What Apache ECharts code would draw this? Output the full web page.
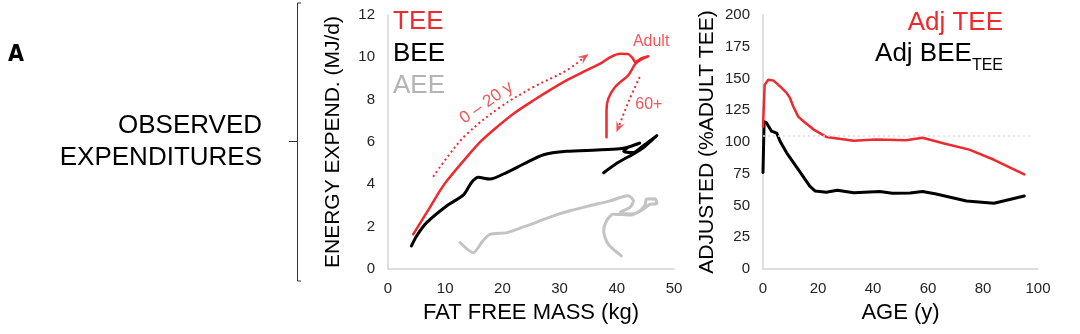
<!DOCTYPE html>
<html>
<head>
<meta charset="utf-8">
<script src="https://cdn.jsdelivr.net/npm/echarts@6/dist/echarts.min.js"></script>
<style>
html,body{margin:0;padding:0;background:#fff;}
#chart{width:1080px;height:334px;}
</style>
</head>
<body>
<div id="chart"></div>
<script>
// ---- Left panel: energy expenditure vs fat free mass (kg, MJ/d), ordered by age ----
var teeFFM = [[4.4,1.64],[7.3,2.9],[9.1,3.7],[10.3,4.17],[13.8,5.3],[16.3,6.05],[19.0,6.7],[22.0,7.35],[25.4,7.96],[28.3,8.45],[31.2,8.91],[34.2,9.32],[37.1,9.7],[38.8,10.0],[40.6,10.17],[42.0,10.15],[42.8,9.95],[43.2,9.78],[44.3,9.95],[45.5,10.05],[44.3,9.9],[43.2,9.68],[42.6,9.4],[42.0,9.15],[39.7,8.6],[38.5,8.04],[38.2,7.49],[38.2,6.22]];
var beeFFM = [[4.1,1.09],[5.0,1.56],[6.8,2.2],[10.3,2.99],[13.2,3.5],[14.6,4.09],[15.8,4.33],[17.8,4.25],[20.8,4.57],[23.7,4.96],[27.2,5.40],[31.2,5.56],[36.5,5.62],[40.5,5.68],[42.5,5.8],[44.0,5.95],[42.0,5.75],[41.2,5.55],[42.8,5.5],[44.5,5.8],[47.0,6.3],[44.5,5.7],[43.0,5.45],[40.0,5.0],[37.7,4.55]];
var aeeFFM = [[12.6,1.25],[14.9,0.77],[16.5,1.3],[17.8,1.64],[20.8,1.72],[24.2,2.04],[28.9,2.51],[31.8,2.75],[35.3,2.99],[38.8,3.22],[42.0,3.46],[42.9,3.22],[42.3,2.91],[40.6,2.67],[42.0,2.6],[43.5,2.65],[44.9,2.99],[45.2,3.30],[46.7,3.32],[47.0,3.1],[45.8,3.05],[44.5,2.8],[42.5,2.55],[39.4,2.59],[38.2,2.27],[37.7,1.80],[38.5,1.17],[40.8,0.62]];
// annotation arrows (dotted)
var arrowYouth = [[7.9,4.36],[10.8,5.44],[13.8,6.38],[19.6,7.64],[25.4,8.59],[31.2,9.38],[34.3,10.0]];
var arrowOld = [[44.0,9.07],[42.2,8.0],[40.3,6.70]];

// ---- Right panel: adjusted expenditure vs age (%adult TEE) ----
var ageTEE = [[0,112],[0.6,145],[1.9,149],[3.7,148.5],[6.2,143.8],[8.6,138.6],[9.8,134.7],[11,128],[12.8,120],[14.7,116.3],[18.3,110],[23,104],[33,101],[41,102],[52,101.4],[58,103.3],[65.5,99],[75,94],[84,86],[95,74.5]];
var ageBEE = [[0,76],[0.4,116],[1.3,115],[3.1,108.5],[5,107],[6.2,100.6],[8.6,91.5],[12.8,78.4],[17,65.3],[19,61.4],[23,60.5],[27,62],[33,60],[42.5,61],[47,59.6],[53.5,59.8],[58,61],[63,59],[74,53.6],[84,51.8],[95,57.5]];
var adultRef = 105;

var leftTicks = {min:0, max:50, interval:10};
var leftYTicks = {min:0, max:12, interval:2};
var rightTicks = {min:0, max:100, interval:20};
var rightYTicks = {min:0, max:200, interval:25};

var RED = '#ee2a2e', BLACK = '#000000', GRAY = '#c3c3c3';
var FONT = '"Liberation Sans", Arial, Helvetica, sans-serif';
var axisLineStyle = {lineStyle:{color:'#d4d4d4', width:1.5}};
var labelStyle = {color:'#222', fontSize:15, fontFamily:FONT};
var nameStyle = {color:'#000', fontSize:21, fontFamily:FONT};

var chart = echarts.init(document.getElementById('chart'), null, {renderer:'canvas'});

function lineSeries(data, color, width, xi, extra){
  var s = {type:'line', xAxisIndex:xi, yAxisIndex:xi, data:data, symbol:'none', smooth:0.25,
    lineStyle:{color:color, width:width, cap:'round', join:'round'}, z:3, silent:true, animation:false};
  if (extra) for (var k in extra) s[k] = extra[k];
  return s;
}

var option = {
  backgroundColor:'#fff',
  animation:false,
  grid:[
    {left:388, top:15, width:286, height:254},
    {left:763, top:15, width:275, height:254}
  ],
  xAxis:[
    {gridIndex:0, type:'value', min:leftTicks.min, max:leftTicks.max, interval:leftTicks.interval,
     axisLine:axisLineStyle, axisTick:{show:false}, splitLine:{show:false},
     axisLabel:Object.assign({margin:12}, labelStyle),
     name:'FAT FREE MASS (kg)', nameLocation:'middle', nameGap:33, nameTextStyle:Object.assign({}, nameStyle, {fontSize:22})},
    {gridIndex:1, type:'value', min:rightTicks.min, max:rightTicks.max, interval:rightTicks.interval,
     axisLine:axisLineStyle, axisTick:{show:false}, splitLine:{show:false},
     axisLabel:Object.assign({margin:12}, labelStyle),
     name:'AGE (y)', nameLocation:'middle', nameGap:33, nameTextStyle:Object.assign({}, nameStyle, {fontSize:22})}
  ],
  yAxis:[
    {gridIndex:0, type:'value', min:leftYTicks.min, max:leftYTicks.max, interval:leftYTicks.interval,
     axisLine:Object.assign({show:true}, axisLineStyle), axisTick:{show:false}, splitLine:{show:false},
     axisLabel:Object.assign({margin:13}, labelStyle),
     name:'ENERGY EXPEND. (MJ/d)', nameLocation:'middle', nameGap:44, nameTextStyle:nameStyle},
    {gridIndex:1, type:'value', min:rightYTicks.min, max:rightYTicks.max, interval:rightYTicks.interval,
     axisLine:Object.assign({show:true}, axisLineStyle), axisTick:{show:false}, splitLine:{show:false},
     axisLabel:Object.assign({margin:13}, labelStyle),
     name:'ADJUSTED (%ADULT TEE)', nameLocation:'middle', nameGap:45, nameTextStyle:nameStyle}
  ],
  series:[
    lineSeries(aeeFFM, GRAY, 3, 0),
    lineSeries(beeFFM, BLACK, 3, 0),
    lineSeries(teeFFM, RED, 2.5, 0),
    lineSeries(arrowYouth, RED, 2, 0, {lineStyle:{color:RED, width:2, type:[2,3]}, smooth:0.4}),
    lineSeries(arrowOld, RED, 2, 0, {lineStyle:{color:RED, width:2, type:[2,3]}, smooth:0.3}),
    {type:'scatter', xAxisIndex:0, yAxisIndex:0, silent:true, animation:false, z:4,
     data:[
       {value:arrowYouth[arrowYouth.length-1], symbol:'path://M0,10 L5,0 L10,10 L5,6 Z', symbolSize:[9,11], symbolRotate:-53},
       {value:arrowOld[arrowOld.length-1], symbol:'path://M0,10 L5,0 L10,10 L5,6 Z', symbolSize:[9,11], symbolRotate:158}
     ],
     itemStyle:{color:RED}},
    {type:'scatter', xAxisIndex:0, yAxisIndex:0, silent:true, animation:false, symbolSize:0, z:5,
     data:[
       {value:[46.0,10.75], label:{show:true, formatter:'Adult', position:'inside', color:RED, fontSize:16, fontFamily:FONT}},
       {value:[45.6,7.75], label:{show:true, formatter:'60+', position:'inside', color:RED, fontSize:16, fontFamily:FONT}},
       {value:[17.2,7.85], label:{show:true, formatter:'0 \u2013 20 y', position:'inside', rotate:35, color:RED, fontSize:17, fontFamily:FONT}}
     ]},
    lineSeries(ageBEE, BLACK, 3, 1, {smooth:false}),
    lineSeries(ageTEE, RED, 2.5, 1, {smooth:false,
      markLine:{silent:true, symbol:'none', animation:false, label:{show:false},
        lineStyle:{color:'#dcdcdc', type:[2,3], width:1.5},
        data:[[{coord:[0,adultRef]},{coord:[98,adultRef]}]]}})
  ],
  graphic:[
    {type:'text', left:8, top:44, style:{text:'A', fontSize:23, fontWeight:'bold', fontFamily:'"Liberation Sans Narrow","DejaVu Sans Condensed",sans-serif', fill:'#000'}},
    {type:'text', right:818, top:113, style:{text:'OBSERVED', fontSize:26, fontFamily:FONT, fill:'#000', textAlign:'right'}},
    {type:'text', right:818, top:145, style:{text:'EXPENDITURES', fontSize:26, fontFamily:FONT, fill:'#000', textAlign:'right'}},
    {type:'polyline', shape:{points:[[301,3],[297.5,3],[297.5,281],[301,281]]}, style:{stroke:'#333', lineWidth:1, fill:null}},
    {type:'line', shape:{x1:289, y1:141.5, x2:297.5, y2:141.5}, style:{stroke:'#333', lineWidth:1}},
    {type:'text', left:393, top:9, style:{text:'TEE', fontSize:26, fontFamily:FONT, fill:RED}},
    {type:'text', left:393, top:41, style:{text:'BEE', fontSize:26, fontFamily:FONT, fill:'#000'}},
    {type:'text', left:393, top:73, style:{text:'AEE', fontSize:26, fontFamily:FONT, fill:'#b4b4b4'}},
    {type:'text', right:77, top:10, style:{text:'Adj TEE', fontSize:26, fontFamily:FONT, fill:RED, textAlign:'right'}},
    {type:'text', right:77, top:41, style:{text:'{a|Adj BEE}{s|TEE}', fontFamily:FONT,
      rich:{a:{fontSize:26, fontFamily:FONT, fill:'#000', color:'#000', verticalAlign:'bottom', lineHeight:30},
            s:{fontSize:16, fontFamily:FONT, fill:'#000', color:'#000', verticalAlign:'bottom', lineHeight:30, padding:[0,0,-7,0]}}}}
  ]
};
chart.setOption(option);
</script>
</body>
</html>
